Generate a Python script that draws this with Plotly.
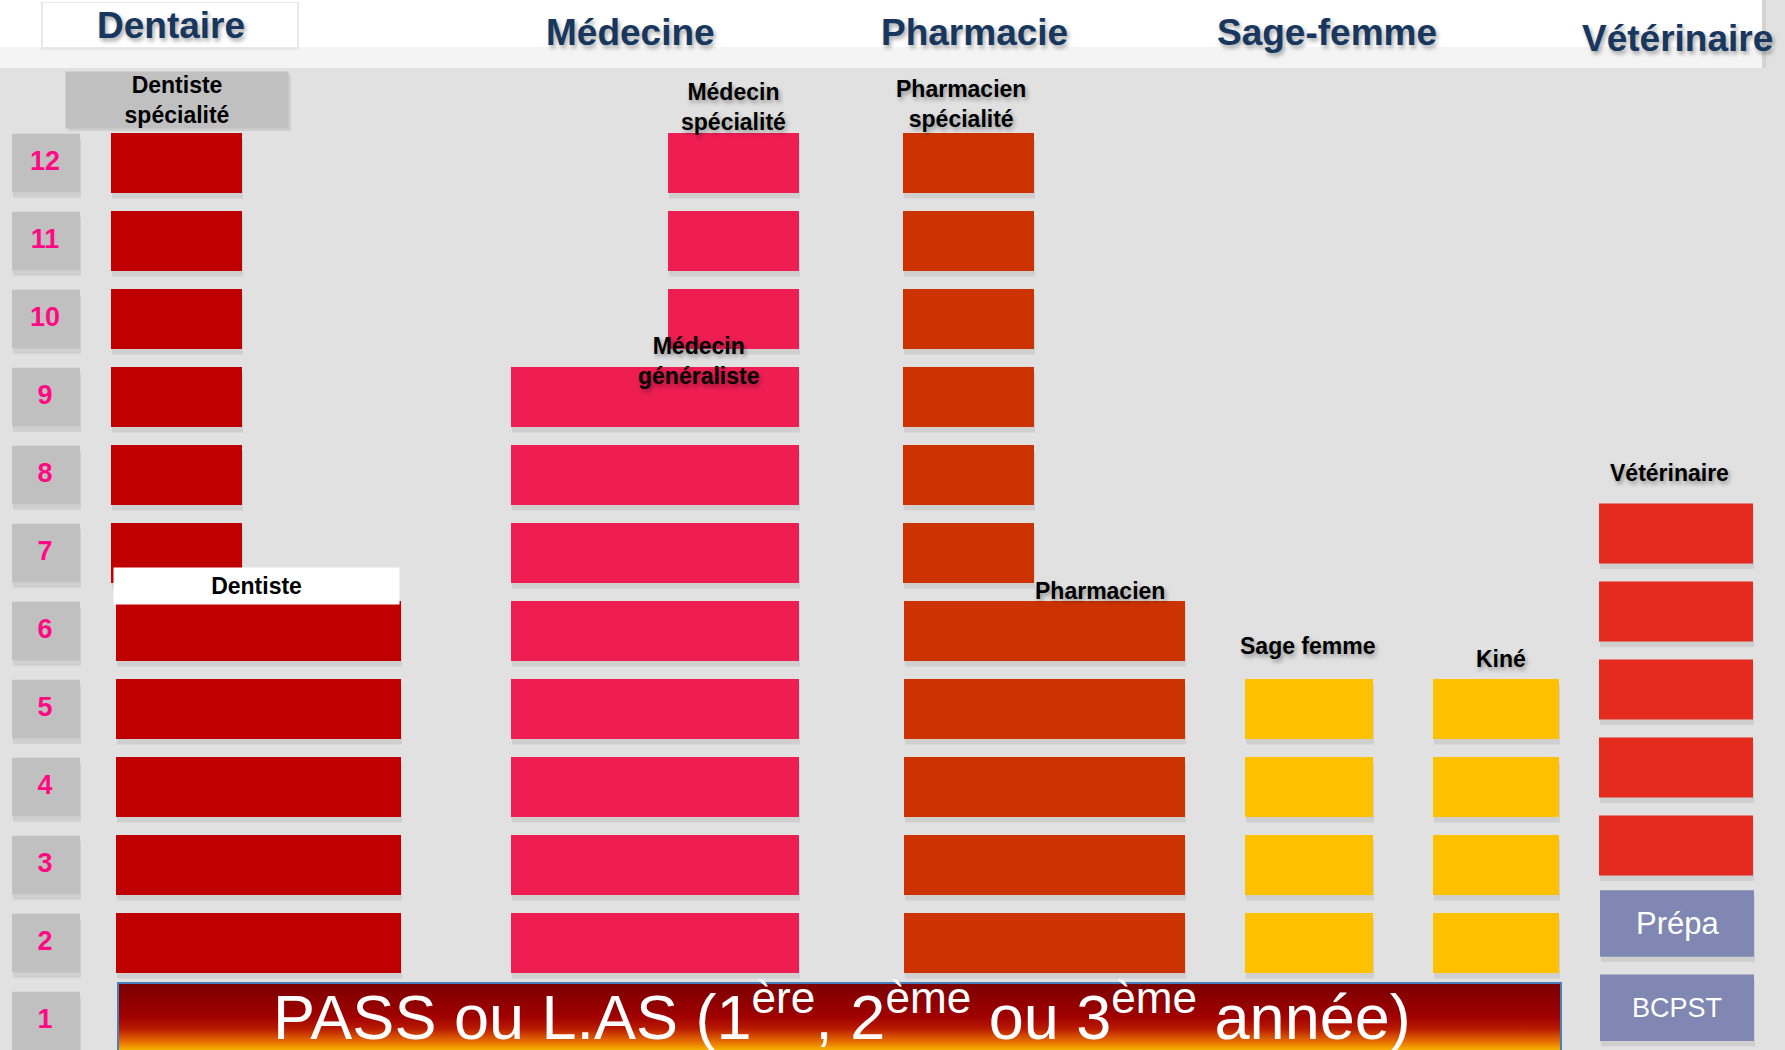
import plotly.graph_objects as go

# ---------------- data ----------------
year_numbers = list(range(1, 13))
dentiste_spe_years = [7, 8, 9, 10, 11, 12]
dentiste_years = [2, 3, 4, 5, 6]
medecin_spe_years = [10, 11, 12]
medecin_gen_years = [2, 3, 4, 5, 6, 7, 8, 9]
pharma_spe_years = [7, 8, 9, 10, 11, 12]
pharma_years = [2, 3, 4, 5, 6]
sage_femme_years = [2, 3, 4, 5]
kine_years = [2, 3, 4, 5]
veto_years = [3, 4, 5, 6, 7]
prepa_labels = ["Prépa", "BCPST"]
prepa_years = [2.25, 1.17]
pass_year = 1
section_titles = ["Dentaire", "Médecine", "Pharmacie", "Sage-femme", "Vétérinaire"]
pass_text = "PASS ou L.AS (1<sup>ère</sup>, 2<sup>ème</sup> ou 3<sup>ème</sup> année)"

# ---------------- geometry / style ----------------
W, H = 1785, 1050
ROW12_PX, PITCH = 163, 78
Y_TOP = 12 + ROW12_PX / PITCH
Y_BOT = 12 - (H - ROW12_PX) / PITCH


def py(p):
    return 12 - (p - ROW12_PX) / PITCH


BG = "#e1e1e1"
NAVY = "#17375e"
PINK = "#ff0a84"
SANS = "Liberation Sans, Arial, sans-serif"
SHADOW = "2px 3px 4px rgba(0,0,0,0.35)"
BLOCK_H = 0.77

fig = go.Figure()


def add_blocks(years, x0, x1, color, dy=0.0, h=BLOCK_H):
    ys = [y + dy for y in years]
    n = len(ys)
    fig.add_trace(go.Bar(orientation="h", y=[y - 0.07 for y in ys], base=[x0 + 1] * n,
                         x=[x1 - x0] * n, width=h, marker=dict(color="rgba(0,0,0,0.08)", line_width=0),
                         hoverinfo="skip", showlegend=False))
    fig.add_trace(go.Bar(orientation="h", y=ys, base=[x0] * n, x=[x1 - x0] * n, width=h,
                         marker=dict(color=color, line_width=0), hoverinfo="skip", showlegend=False))


# year label boxes
add_blocks(year_numbers, 12, 80, "#c0c0c0", h=0.75)
# columns
add_blocks(dentiste_spe_years, 111, 242, "#c00000")
add_blocks(dentiste_years, 116, 401, "#c00000")
add_blocks(medecin_spe_years, 668, 799, "#ee1e53")
add_blocks(medecin_gen_years, 511, 799, "#ee1e53")
add_blocks(pharma_spe_years, 903, 1034, "#cc3300")
add_blocks(pharma_years, 904, 1185, "#cc3300")
add_blocks(sage_femme_years, 1245, 1373, "#ffc000")
add_blocks(kine_years, 1433, 1559, "#ffc000")
add_blocks(veto_years, 1599, 1753, "#e52a1e", dy=0.25)
add_blocks(prepa_years, 1600, 1754, "#7f87b2", h=0.85)

# year numbers
fig.add_trace(go.Scatter(x=[45] * len(year_numbers), y=year_numbers, mode="text",
                         text=[str(v) for v in year_numbers],
                         textfont=dict(family=SANS, size=27, color=PINK, weight="bold"),
                         hoverinfo="skip", showlegend=False))

# prepa texts
for lab, yv, sz in zip(prepa_labels, prepa_years, [31, 27]):
    fig.add_annotation(x=1677, y=yv, text=lab, showarrow=False,
                       font=dict(family=SANS, size=sz, color="white"),
                       xanchor="center", yanchor="middle")

# PASS bar with vertical gradient
p_lo, p_hi = pass_year - 0.49, pass_year + 0.487
fig.add_trace(go.Scatter(x=[118, 1561, 1561, 118, 118], y=[p_lo, p_lo, p_hi, p_hi, p_lo],
                         mode="lines", fill="toself", line=dict(color="#4a7ebb", width=2),
                         fillgradient=dict(type="vertical", start=py(1050), stop=p_hi,
                                           colorscale=[[0, "#f7b000"], [0.12, "#e87000"],
                                                       [0.32, "#b81a00"], [0.5, "#a00000"],
                                                       [1, "#7a0000"]]),
                         hoverinfo="skip", showlegend=False))
fig.add_annotation(x=842, y=py(1012), text=pass_text, showarrow=False,
                   font=dict(family=SANS, size=63, color="white"), xanchor="center", yanchor="middle")

# header band
fig.add_shape(type="rect", xref="x", yref="paper", x0=0, x1=1762, y0=1 - 47 / H, y1=1,
              fillcolor="white", line_width=0, layer="below")
fig.add_shape(type="rect", xref="x", yref="paper", x0=0, x1=1762, y0=1 - 68 / H, y1=1 - 47 / H,
              fillcolor="#f4f4f4", line_width=0, layer="below")
fig.add_shape(type="rect", xref="x", yref="paper", x0=1762, x1=1766, y0=1 - 68 / H, y1=1,
              fillcolor="#d4d4d4", line_width=0, layer="below")
# Dentaire title box
fig.add_shape(type="rect", xref="x", yref="paper", x0=41, x1=299, y0=1 - 50 / H, y1=1 - 2 / H,
              fillcolor="#e8e8e8", line_width=0, layer="below")
fig.add_shape(type="rect", xref="x", yref="paper", x0=43, x1=297, y0=1 - 47 / H, y1=1 - 3 / H,
              fillcolor="white", line_width=0, layer="below")

title_pos = [(171, 25), (630, 32), (974, 32), (1327, 32), (1677, 38)]
for t, (tx, ty) in zip(section_titles, title_pos):
    fig.add_annotation(x=tx, y=py(ty), text=t, showarrow=False,
                       font=dict(family=SANS, size=37, color=NAVY, weight="bold", shadow=SHADOW),
                       xanchor="center", yanchor="middle")

LBL = dict(family=SANS, size=23, color="black", weight="bold")
LBL_SH = dict(LBL, shadow=SHADOW)

# Dentiste spécialité grey box
fig.add_shape(type="rect", xref="x", yref="y", x0=68, x1=291, y0=py(131), y1=py(75),
              fillcolor="rgba(0,0,0,0.08)", line_width=0, layer="above")
fig.add_annotation(x=177, y=py(100), text="Dentiste<br>spécialité", showarrow=False,
                   font=LBL, bgcolor="#c0c0c0", width=222, height=56, borderpad=0,
                   xanchor="center", yanchor="middle")
# Dentiste white box
fig.add_annotation(x=256, y=py(586), text="Dentiste", showarrow=False,
                   font=LBL, bgcolor="white", width=285, height=36, borderpad=0,
                   xanchor="center", yanchor="middle")

labels = [
    ("Médecin<br>spécialité", 733, 107),
    ("Médecin<br>généraliste", 698, 361),
    ("Pharmacien<br>spécialité", 961, 104),
    ("Pharmacien", 1100, 591),
    ("Sage femme", 1308, 646),
    ("Kiné", 1501, 659),
    ("Vétérinaire", 1669, 473),
]
for t, lx, ly in labels:
    fig.add_annotation(x=lx, y=py(ly), text=t, showarrow=False, font=LBL_SH,
                       xanchor="center", yanchor="middle")

fig.update_layout(
    width=W, height=H, margin=dict(l=0, r=0, t=0, b=0),
    paper_bgcolor=BG, plot_bgcolor=BG, barmode="overlay", showlegend=False,
    xaxis=dict(range=[0, W], visible=False, fixedrange=True),
    yaxis=dict(range=[Y_BOT, Y_TOP], visible=False, fixedrange=True),
)

fig.write_html("out.html", config={"displayModeBar": False},
               post_script="document.body.style.margin='0';document.body.style.overflow='hidden';")
